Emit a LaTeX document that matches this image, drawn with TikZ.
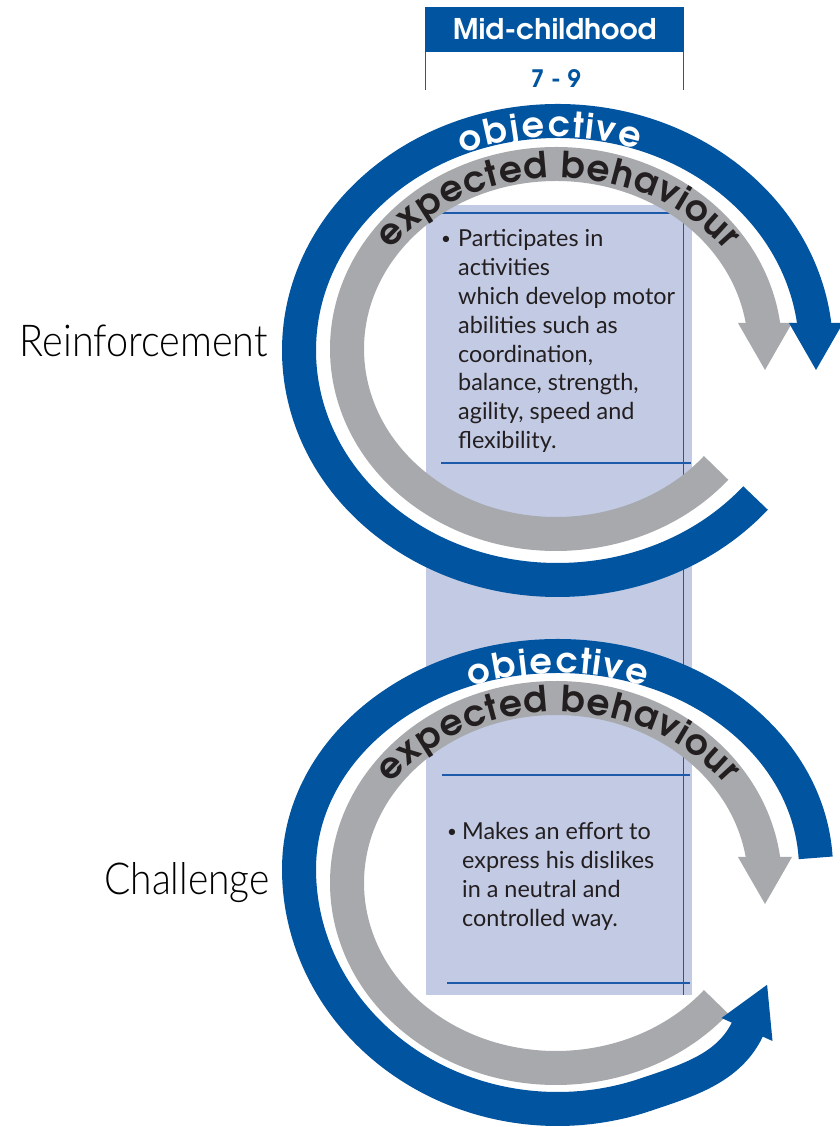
\documentclass[tikz,border=0pt]{standalone}
\usepackage[T1]{fontenc}
\usepackage{fontspec}
\usetikzlibrary{decorations.text}
\newfontfamily\bodyfont{Lato}
\newfontfamily\lightfont{Lato Light}
\newcommand\gothicfont{\fontencoding{T1}\fontfamily{pag}\fontseries{db}\fontshape{n}\selectfont}
\newcommand\objfont{\gothicfont\fontsize{35}{35}\selectfont}
\newcommand\behfont{\gothicfont\fontsize{36}{36}\selectfont}
\definecolor{spiralblue}{RGB}{0,84,160}
\definecolor{spiralgray}{RGB}{167,169,172}
\definecolor{columnfill}{RGB}{195,202,228}
\definecolor{ruleblue}{RGB}{30,90,170}
\definecolor{ink}{RGB}{35,31,32}
\begin{document}
\begin{tikzpicture}[x=1pt,y=1pt,
  band/.style={line width=34pt},
  gapband/.style={white, line width=16pt},
  colrule/.style={draw=ruleblue, line width=1.3pt},
  body/.style={font=\bodyfont\fontsize{23.4}{28.8}\selectfont, text=ink, inner sep=0pt},
  bulletmark/.style={font=\bodyfont\fontsize{17}{20}\selectfont, text=ink, inner sep=0pt},
  sidelabel/.style={font=\lightfont\fontsize{44}{46}\selectfont, text=black, inner sep=0pt},
  objtext/.style={decorate, decoration={text effects along path, text={objective},
      text effects/.cd, text along path, fit text to path,
      characters={text=white, font=\objfont, anchor=base}}},
  behtext/.style={decorate, decoration={text effects along path, text={expected behaviour},
      text effects/.cd, text along path, fit text to path,
      characters={text=ink, font=\behfont, anchor=base}}},
]
\useasboundingbox (0,0) rectangle (840,1127);
\fill[white] (0,0) rectangle (840,1127);

% lavender column with its rules
\fill[columnfill] (425.5,132) rectangle (692,922);
\draw[colrule] (440,914) -- (690,914);
\draw[colrule] (441,664) -- (691,664);
\draw[colrule] (442,352) -- (690,352);
\draw[colrule] (447,144) -- (690,144);
\draw[colrule] (683.5,918) -- (683.5,132);

% header
\node[fill=spiralblue, minimum width=259pt, minimum height=45pt, inner sep=0pt, anchor=north west] (hdr) at (425,1120) {};
\node[text=white, font=\gothicfont\fontsize{28.5}{28.5}\selectfont, inner sep=0pt] (title) at (hdr.center) {Mid-childhood};
\draw[colrule, line width=1pt] (425.6,1075) -- (425.6,1037);
\draw[colrule, line width=1pt] (683.8,1075) -- (683.8,1037);
\node[text=spiralblue, font=\gothicfont\fontsize{24}{24}\selectfont, inner sep=0pt] (age) at (556,1049) {7 - 9};

% ---------- upper spiral (reinforcement) ----------
\draw[gapband] (557,777.5) ellipse[x radius=234, y radius=207.5];
\draw[band, spiralgray] ([shift={(-40:209 and 185)}]556,778)
  arc[start angle=-40, end angle=-353, x radius=209, y radius=185];
\fill[spiralgray] (738,804) -- (792,804) -- (765,757) -- cycle;
\draw[band, spiralblue] ([shift={(-40:258.5 and 229.5)}]557.5,776.5)
  arc[start angle=-40, end angle=-354, x radius=258.5, y radius=229.5];
\fill[spiralblue] (789,804) -- (843,804) -- (816,757) -- cycle;
\path[objtext] ([shift={(113:242.5 and 213.5)}]557.5,776.5)
  arc[start angle=113, end angle=70.6, x radius=242.5, y radius=213.5];
\path[behtext] ([shift={(144.6:205 and 171)}]558,778)
  arc[start angle=144.6, end angle=35.4, x radius=205, y radius=171];

% ---------- lower spiral (challenge) ----------
\draw[gapband] (557,244.25) ellipse[x radius=234, y radius=205.75];
\draw[band, spiralgray] ([shift={(-40:209 and 185)}]556,244)
  arc[start angle=-40, end angle=-353, x radius=209, y radius=185];
\fill[spiralgray] (738,270) -- (792,270) -- (765,223) -- cycle;
\draw[band, spiralblue] ([shift={(3:258.5 and 213)}]557.5,258)
  arc[start angle=3, end angle=180, x radius=258.5, y radius=213]
  arc[start angle=180, end angle=290, x radius=258.5, y radius=240]
  .. controls (688.5,46.9) and (730.1,59) .. (748.5,100);
\fill[spiralblue] (721.5,109) -- (772.5,86) -- (767.1,142.2) -- cycle;
\path[objtext] ([shift={(111.2:241.5 and 196)}]557.5,258)
  arc[start angle=111.2, end angle=68.8, x radius=241.5, y radius=196];
\path[behtext] ([shift={(144.6:205 and 171)}]558,244)
  arc[start angle=144.6, end angle=35.4, x radius=205, y radius=171];

% behaviour descriptions
\node[bulletmark, anchor=base west] (bulA) at (441,882) {\textbullet};
\node[body, anchor=base west] (txtA) at (458,880) {\begin{tabular}[t]{@{}l@{}}
Participates in\\ activities\\ which develop motor\\ abilities such as\\
coordination,\\ balance, strength,\\ agility, speed and\\ flexibility.\end{tabular}};
\node[bulletmark, anchor=base west] (bulB) at (447,289) {\textbullet};
\node[body, anchor=base west] (txtB) at (462,287) {\begin{tabular}[t]{@{}l@{}}
Makes an effort to\\ express his dislikes\\ in a neutral and\\ controlled way.\end{tabular}};

% side labels
\node[sidelabel, anchor=base east] (reinf) at (268,770) {\scalebox{0.9}[1]{Reinforcement}};
\node[sidelabel, anchor=base east] (chal) at (270,232) {\scalebox{0.885}[1]{Challenge}};
\end{tikzpicture}
\end{document}
